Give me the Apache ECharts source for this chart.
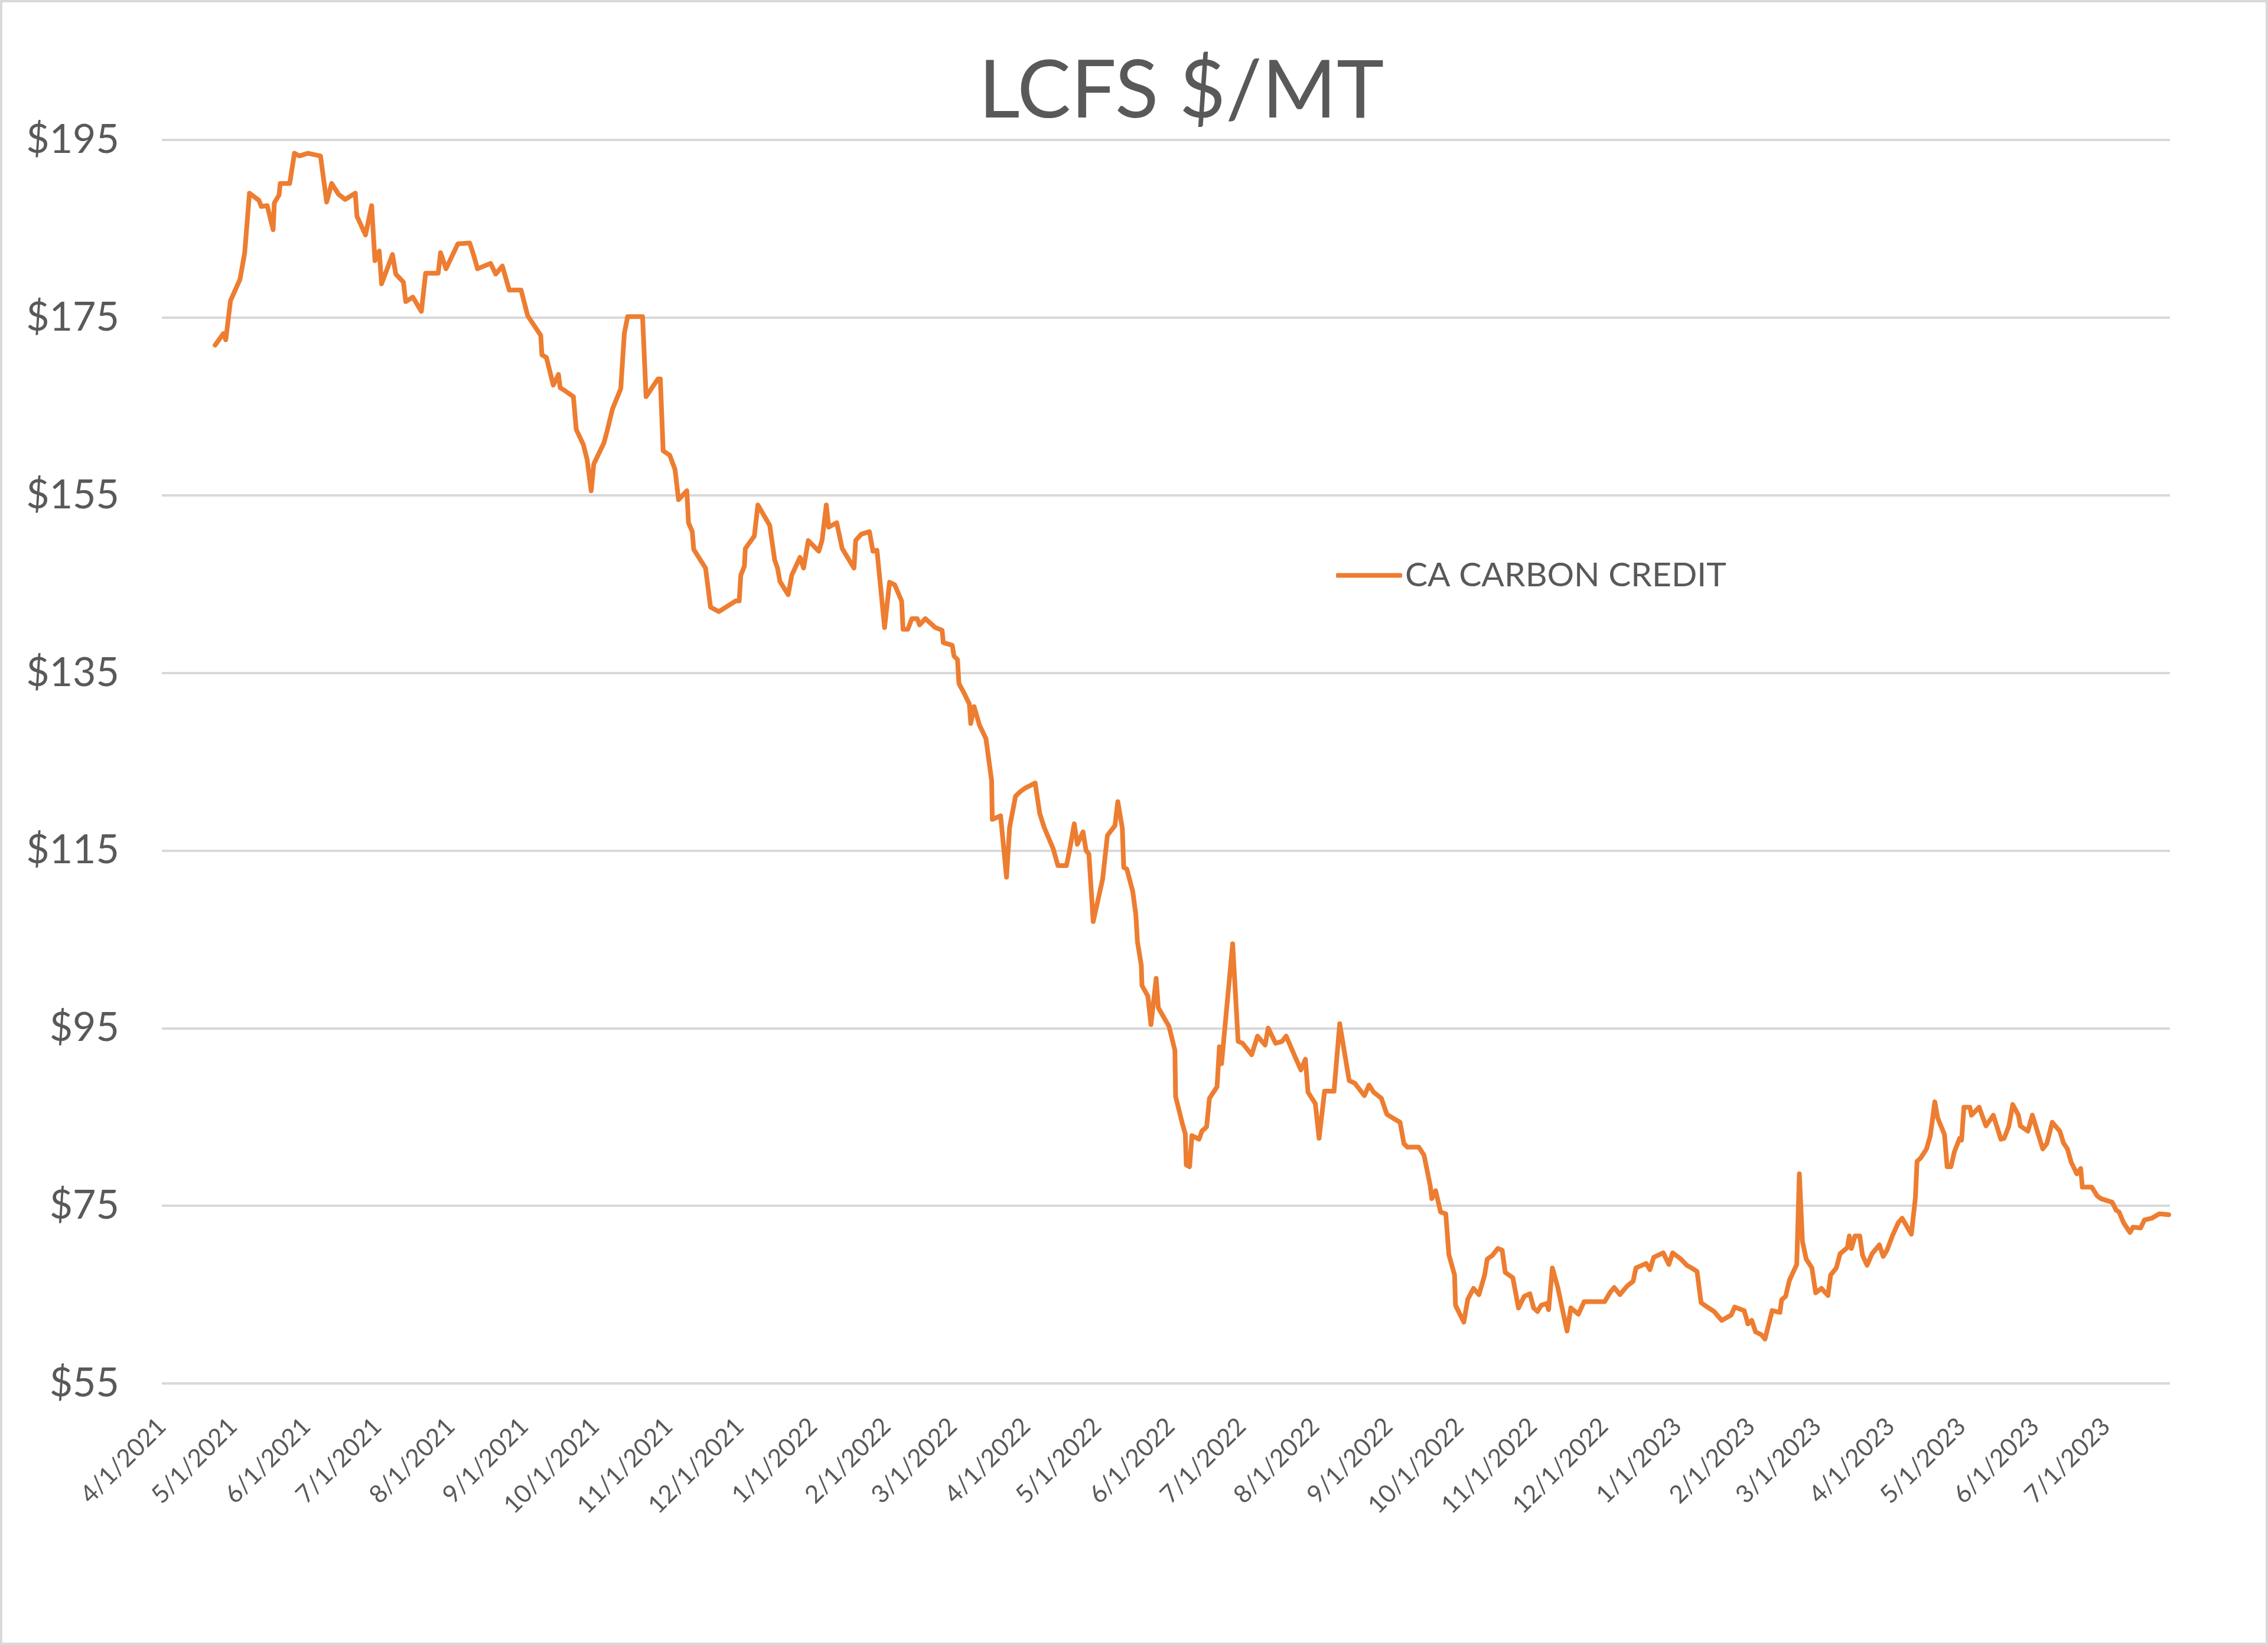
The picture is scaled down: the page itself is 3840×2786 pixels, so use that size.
<!DOCTYPE html>
<html>
<head>
<meta charset="utf-8">
<script src="https://cdn.jsdelivr.net/npm/echarts@6/dist/echarts.min.js"></script>
<style>
  html, body { margin: 0; padding: 0; background: #fff; }
  #chart { width: 3840px; height: 2786px; box-sizing: border-box; border: 4px solid #D9D9D9; }
</style>
</head>
<body>
<div id="chart"></div>
<script>
// Days since 4/1/2021 and CA Carbon Credit price ($/MT)
const dayOffsets = [
  22.5, 26, 27, 29, 33, 35, 37, 41, 42, 44.5, 47, 47.5, 49.5, 50, 54, 56, 58, 61.7, 67, 69.6,
  71.7, 74.6, 77.4, 81.7, 82.4, 86, 88.6, 90, 91.8, 92.8, 97.4, 98.8, 102, 103, 106, 109.6, 111.4, 116.7, 117.7, 120,
  125, 130, 131.7, 133.3, 138.8, 141, 143.8, 146.7, 151.7, 154.5, 160, 160.5, 162.4, 165.3, 167.5, 168.2, 170, 173.8, 175, 178,
  179.6, 181.3, 182.4, 186.7, 188, 190.3, 193.8, 195.3, 196.7, 203, 204.5, 209.5, 210.5, 211.7, 214.5, 216.7, 218.2, 221.7, 222.4, 224,
  224.6, 229.6, 231.7, 235.2, 242.4, 243.8, 244.5, 246, 246.4, 250.2, 251.7, 256.7, 258.8, 260, 261, 264.5, 266, 269.5, 271, 273,
  277.4, 278.8, 280.6, 281.6, 285, 287.3, 292.3, 293, 295.3, 298.8, 300.3, 302, 305.2, 307.3, 309.5, 312.4, 313, 315, 316.7, 319,
  320, 322.4, 326.6, 329.5, 330, 333.8, 334.5, 336, 336.6, 339, 341, 341.6, 343, 345.3, 348, 350.4, 350.7, 354.2, 356.7, 358,
  360.5, 362.4, 364.4, 368.8, 370.7, 372.6, 376.4, 378.4, 382, 383.3, 385.3, 386.6, 389, 390.3, 391.5, 393.3, 397.3, 399.3, 402.5, 403.7,
  405.6, 406.2, 407.5, 410, 411.3, 412, 413.6, 413.9, 416.4, 417.7, 419.9, 420.8, 425.3, 427.8, 428.1, 431, 432.2, 432.6, 434, 435,
  438, 439.2, 441.2, 442.4, 445.6, 446.6, 447.5, 452.2, 454.5, 456.4, 460.2, 462.7, 465.9, 467.2, 470.3, 473, 474.8, 478.5, 481, 482.9,
  484, 487.1, 488.7, 491, 495, 497.4, 501.4, 503.8, 507.8, 509.8, 511.7, 515, 517.3, 519.7, 522.9, 524.5, 526, 530.8, 533, 535.6,
  536.3, 537.9, 540, 542.2, 543.5, 545.9, 546.3, 549.8, 551.5, 553.9, 556.2, 558.6, 559.7, 561.8, 564.2, 566, 567.3, 570.5, 572.9, 575.3,
  577.7, 579.3, 580.9, 582.5, 584.8, 585.6, 587.2, 589.5, 591, 593.4, 595, 598.2, 600.6, 609.3, 611.7, 613.3, 615.7, 618.9, 621.3, 622.5,
  626.8, 628.4, 630, 634, 636.4, 638, 641.5, 644, 646, 648.3, 650, 651.5, 655.5, 658.7, 662.7, 664.2, 668.2, 669.8, 671.4, 673,
  675.4, 677, 680, 683.3, 684, 685.7, 687.3, 690.4, 691.5, 692.8, 694.4, 696.8, 698.4, 700.8, 703.6, 704.7, 707.1, 708.7, 711.8, 712.6,
  713.5, 715, 717, 718.2, 720.1, 722.2, 725.3, 726.9, 728.5, 730.9, 733.3, 734.9, 738.8, 740.5, 741.2, 742.8, 745.2, 746.8, 748.7, 749.9,
  752.8, 753.9, 755.5, 757, 759.2, 760, 761, 763.5, 764.2, 767.4, 770.3, 773.4, 776.6, 778, 780, 781.6, 784, 784.8, 788, 789.9,
  794.3, 796, 798.3, 801.5, 803, 804.7, 806.3, 808.7, 810.3, 811, 815, 817.3, 818.9, 823.6, 825.3, 826.5, 828.4, 831.1, 832.4, 835.6,
  837.2, 840.3, 843.5, 847.5
];
const caCarbonCredit = [
  171.9, 173.2, 172.5, 176.9, 179.3, 182.3, 189.0, 188.2, 187.5, 187.6, 184.9, 187.9, 188.8, 190.1, 190.1, 193.5, 193.2, 193.5, 193.2, 188.0,
  190.1, 188.9, 188.3, 189.0, 186.4, 184.3, 187.6, 181.4, 182.5, 178.8, 182.1, 179.9, 179.0, 176.8, 177.3, 175.7, 180.0, 180.0, 182.3, 180.5,
  183.3, 183.4, 182.0, 180.5, 181.1, 179.9, 180.8, 178.1, 178.1, 175.2, 173.0, 170.8, 170.5, 167.4, 168.6, 167.1, 166.8, 166.1, 162.4, 160.7,
  159.0, 155.5, 158.5, 160.9, 162.2, 164.7, 167.0, 173.2, 175.1, 175.1, 166.1, 168.1, 168.1, 160.0, 159.5, 157.9, 154.5, 155.5, 151.9, 150.9,
  148.9, 146.8, 142.4, 141.9, 143.1, 143.1, 146.0, 147.0, 149.0, 150.4, 153.9, 151.6, 147.7, 146.8, 145.3, 143.8, 146.0, 148.0, 146.8, 149.9,
  148.7, 149.9, 153.9, 151.4, 151.9, 149.0, 146.8, 149.9, 150.6, 150.9, 148.7, 148.8, 140.1, 145.2, 144.9, 143.1, 139.9, 139.9, 141.1, 141.1,
  140.4, 141.1, 140.1, 139.8, 138.4, 138.1, 136.9, 136.5, 133.8, 132.6, 131.5, 129.3, 131.2, 129.1, 127.6, 122.9, 118.5, 118.9, 112.0, 117.6,
  121.1, 121.6, 122.0, 122.6, 119.2, 117.6, 115.2, 113.3, 113.3, 115.0, 118.0, 115.7, 117.1, 115.0, 114.6, 107.0, 111.8, 116.7, 117.8, 120.5,
  117.5, 113.1, 112.9, 110.4, 107.8, 104.7, 102.1, 99.8, 98.6, 95.4, 100.6, 97.3, 95.2, 92.5, 87.3, 84.2, 83.1, 79.6, 79.4, 82.9,
  82.5, 83.4, 83.9, 87.1, 88.4, 92.9, 91.0, 104.5, 93.5, 93.3, 92.0, 94.1, 93.1, 95.0, 93.3, 93.5, 94.1, 91.8, 90.3, 91.5,
  87.8, 86.5, 82.6, 87.9, 87.9, 95.5, 89.1, 88.8, 87.4, 88.6, 87.8, 87.1, 85.3, 84.9, 84.4, 82.0, 81.6, 81.6, 80.7, 77.3,
  75.8, 76.7, 74.3, 74.1, 69.5, 67.2, 63.8, 61.9, 64.5, 65.7, 65.0, 67.2, 69.0, 69.4, 70.2, 70.0, 67.5, 66.9, 63.5, 64.8,
  65.1, 63.5, 63.1, 63.8, 64.0, 63.3, 68.0, 65.8, 63.9, 60.9, 63.5, 62.8, 64.2, 64.2, 65.3, 65.8, 65.0, 66.0, 66.5, 68.0,
  68.5, 67.8, 69.2, 69.7, 68.4, 69.7, 69.0, 68.3, 68.0, 67.6, 64.1, 63.8, 63.1, 62.1, 62.7, 63.6, 63.2, 61.7, 62.1, 60.8,
  60.5, 60.0, 63.2, 63.0, 64.4, 64.8, 66.6, 68.4, 78.6, 71.0, 69.0, 68.0, 65.2, 65.7, 64.9, 67.2, 68.0, 69.6, 70.3, 71.6,
  70.2, 71.6, 71.6, 69.4, 68.3, 69.6, 70.6, 69.3, 70.0, 71.7, 73.1, 73.6, 71.8, 75.9, 80.0, 80.4, 81.4, 82.9, 86.7, 84.9,
  83.0, 79.4, 79.4, 81.1, 82.6, 82.4, 86.1, 86.1, 85.2, 86.1, 84.0, 85.2, 82.5, 82.6, 84.0, 86.4, 85.2, 84.0, 83.4, 85.2,
  81.4, 82.0, 84.4, 83.4, 82.1, 81.4, 79.9, 78.6, 79.2, 77.1, 77.1, 76.1, 75.8, 75.4, 74.5, 74.3, 73.1, 72.0, 72.6, 72.5,
  73.4, 73.6, 74.1, 74.0
];
// Month-start tick positions (days since 4/1/2021) and their labels
const monthTickDays = [0, 30, 61, 91, 122, 153, 183, 214, 244, 275, 306, 334, 365, 395, 426, 456, 487, 518, 548, 579, 609, 640, 671, 699, 730, 760, 791, 821];
const monthTickLabels = ['4/1/2021', '5/1/2021', '6/1/2021', '7/1/2021', '8/1/2021', '9/1/2021', '10/1/2021', '11/1/2021', '12/1/2021',
  '1/1/2022', '2/1/2022', '3/1/2022', '4/1/2022', '5/1/2022', '6/1/2022', '7/1/2022', '8/1/2022', '9/1/2022', '10/1/2022', '11/1/2022', '12/1/2022',
  '1/1/2023', '2/1/2023', '3/1/2023', '4/1/2023', '5/1/2023', '6/1/2023', '7/1/2023'];
const seriesName = 'CA CARBON CREDIT';
const chartTitle = 'LCFS $/MT';

const labelMap = {};
monthTickDays.forEach((d, i) => { labelMap[d] = monthTickLabels[i]; });

const chart = echarts.init(document.getElementById('chart'));
chart.setOption({
  animation: false,
  backgroundColor: '#ffffff',
  textStyle: { fontFamily: 'Lato' },
  title: {
    text: chartTitle,
    left: 1648,
    top: 78,
    textStyle: { fontFamily: 'Lato', fontSize: 136, fontWeight: 'normal', color: '#595959' }
  },
  legend: {
    left: 2253,
    top: 937,
    icon: 'roundRect',
    itemWidth: 112,
    itemHeight: 8,
    itemStyle: { color: '#ED7D31' },
    textStyle: { fontFamily: 'Lato', fontSize: 57, color: '#595959', padding: [0, 0, 0, 0] },
    data: [seriesName]
  },
  grid: { left: 270, right: 162, top: 233, bottom: 439, containLabel: false },
  xAxis: {
    type: 'value',
    min: 0,
    max: 848,
    splitLine: { show: false },
    axisLine: { show: false },
    axisTick: { show: false },
    axisLabel: {
      customValues: monthTickDays,
      rotate: 45,
      margin: 66,
      fontFamily: 'Lato',
      fontSize: 42,
      color: '#595959',
      formatter: (v) => labelMap[v] || ''
    }
  },
  yAxis: {
    type: 'value',
    min: 55,
    max: 195,
    interval: 20,
    axisLine: { show: false },
    axisTick: { show: false },
    splitLine: { lineStyle: { color: '#D9D9D9', width: 4 } },
    axisLabel: {
      margin: 72,
      fontFamily: 'Lato',
      fontSize: 68,
      color: '#595959',
      formatter: (v) => '$' + v
    }
  },
  series: [{
    name: seriesName,
    type: 'line',
    symbol: 'none',
    smooth: false,
    lineStyle: { color: '#ED7D31', width: 8, cap: 'round', join: 'round' },
    itemStyle: { color: '#ED7D31' },
    data: dayOffsets.map((d, i) => [d, caCarbonCredit[i]])
  }]
});
</script>
</body>
</html>
